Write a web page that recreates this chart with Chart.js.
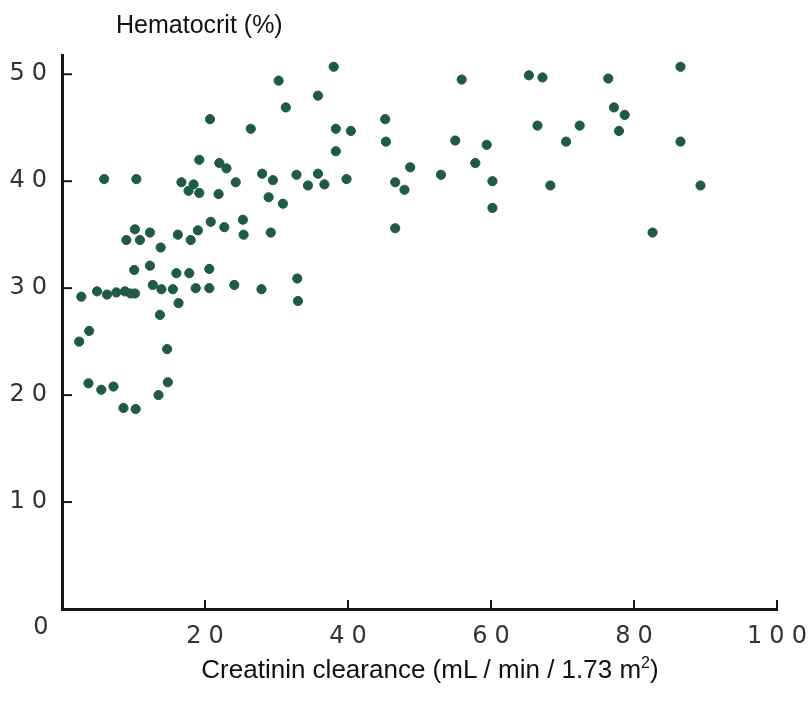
<!DOCTYPE html>
<html lang="en">
<head>
  <meta charset="UTF-8">
  <title>Hematocrit vs creatinin clearance</title>
  <script src="https://cdn.jsdelivr.net/npm/chart.js"></script>
  <style>
    body {
      margin: 0;
      background: #fff;
      font-family: 'Liberation Sans', Arial, sans-serif;
    }
    .wrap {
      position: relative;
      width: 808px;
      height: 713px;
    }
    .ylabel {
      position: absolute;
      left: 116px;
      top: 10px;
      font-size: 25px;
      color: #111;
    }
    .xlabel {
      position: absolute;
      left: 0;
      width: 860px;
      top: 654px;
      text-align: center;
      font-size: 26px;
      color: #111;
    }
    .xlabel sup { font-size: 16px; }
  </style>
</head>
<body>
  <div class="wrap">
    <canvas id="chart" width="808" height="713"></canvas>
    <div class="ylabel">Hematocrit (%)</div>
    <div class="xlabel">Creatinin clearance (mL / min / 1.73 m<sup>2</sup>)</div>
  </div>

  <script>
    // creatinin clearance (mL/min/1.73 m2) for each patient
    const clearance = [
      5.9, 10.4, 10.2, 9.0, 10.9, 12.3, 13.8, 16.2, 16.7, 18.0,
      19.0, 17.7, 18.4, 19.2, 19.2, 20.7, 20.8, 21.9, 22.0, 23.0,
      22.7, 24.3, 25.3, 25.4, 26.4, 28.0, 29.5, 28.9, 29.2, 30.9,
      30.3, 38.0, 35.8, 31.3, 45.2, 45.3, 38.3, 40.4, 38.3, 32.8,
      35.8, 34.4, 36.7, 39.8, 48.7, 46.6, 47.9, 46.6, 53.0, 55.0,
      55.9, 57.8, 59.4, 60.2, 60.2, 65.3, 67.2, 76.4, 86.5, 77.2,
      78.7, 77.9, 66.5, 72.4, 70.5, 86.5, 68.3, 89.3, 82.6,
      10.1, 12.3, 16.0, 17.8, 20.6, 2.7, 4.9, 6.3, 7.6, 8.8,
      10.2, 9.6, 12.7, 13.9, 15.5, 18.7, 20.6, 24.1, 27.9, 16.3,
      13.7, 2.4, 3.8, 14.7, 3.7, 5.5, 7.2, 8.6, 10.3, 13.5,
      14.8, 32.9, 33.0
    ];
    // hematocrit (%) for the same patients
    const hematocrit = [
      40.2, 40.2, 35.5, 34.5, 34.5, 35.2, 33.8, 35.0, 39.9, 34.5,
      35.4, 39.1, 39.7, 38.9, 42.0, 45.8, 36.2, 38.8, 41.7, 41.2,
      35.7, 39.9, 36.4, 35.0, 44.9, 40.7, 40.1, 38.5, 35.2, 37.9,
      49.4, 50.7, 48.0, 46.9, 45.8, 43.7, 44.9, 44.7, 42.8, 40.6,
      40.7, 39.6, 39.7, 40.2, 41.3, 39.9, 39.2, 35.6, 40.6, 43.8,
      49.5, 41.7, 43.4, 40.0, 37.5, 49.9, 49.7, 49.6, 50.7, 46.9,
      46.2, 44.7, 45.2, 45.2, 43.7, 43.7, 39.6, 39.6, 35.2,
      31.7, 32.1, 31.4, 31.4, 31.8, 29.2, 29.7, 29.4, 29.6, 29.7,
      29.5, 29.5, 30.3, 29.9, 29.9, 30.0, 30.0, 30.3, 29.9, 28.6,
      27.5, 25.0, 26.0, 24.3, 21.1, 20.5, 20.8, 18.8, 18.7, 20.0,
      21.2, 30.9, 28.8
    ];
    const xTicks = [0, 20, 40, 60, 80, 100];
    const yTicks = [10, 20, 30, 40, 50];

    const points = clearance.map((x, i) => ({ x: x, y: hematocrit[i] }));

    const tickFont = { family: "'DejaVu Sans', sans-serif", size: 24 };
    const axisColor = '#15151f';
    const spacing = 7;

    // spaced-out tick digits like the old stencil lettering
    const spacingPlugin = {
      id: 'spacing',
      beforeDraw(chart) { chart.ctx.letterSpacing = spacing + 'px'; },
      beforeDatasetsDraw(chart) { chart.ctx.letterSpacing = '0px'; }
    };

    // tick marks pointing into the plot, plus the shared origin "0"
    const innerTicks = {
      id: 'innerTicks',
      afterDraw(chart) {
        const ctx = chart.ctx;
        const xs = chart.scales.x, ys = chart.scales.y;
        const bottom = ys.getPixelForValue(0);
        const left = xs.getPixelForValue(0);
        ctx.save();
        ctx.strokeStyle = axisColor;
        ctx.lineWidth = 2;
        xTicks.slice(1).forEach(v => {
          const px = xs.getPixelForValue(v);
          ctx.beginPath();
          ctx.moveTo(px, bottom);
          ctx.lineTo(px, bottom - 9);
          ctx.stroke();
        });
        yTicks.forEach(v => {
          const py = ys.getPixelForValue(v);
          ctx.beginPath();
          ctx.moveTo(left, py);
          ctx.lineTo(left + 10, py);
          ctx.stroke();
        });
        ctx.fillStyle = '#333';
        ctx.font = "24px 'DejaVu Sans', sans-serif";
        ctx.textAlign = 'center';
        ctx.textBaseline = 'top';
        ctx.fillText('0', left - 21, bottom + 7);
        ctx.restore();
      }
    };

    new Chart(document.getElementById('chart'), {
      type: 'scatter',
      data: {
        datasets: [{
          data: points,
          backgroundColor: '#1f5a48',
          borderColor: '#1f5a48',
          pointRadius: 4.6,
          pointHoverRadius: 4.6
        }]
      },
      options: {
        responsive: false,
        animation: false,
        layout: { padding: { top: 55, right: 31, left: 0, bottom: 0 } },
        plugins: {
          legend: { display: false },
          tooltip: { enabled: false }
        },
        scales: {
          x: {
            type: 'linear',
            min: 0,
            max: 100,
            afterFit(scale) { scale.height = 104; },
            afterBuildTicks(scale) { scale.ticks = xTicks.map(v => ({ value: v })); },
            grid: { display: false },
            border: { display: true, color: axisColor, width: 3 },
            ticks: {
              color: '#333',
              font: tickFont,
              padding: 5,
              labelOffset: spacing / 2,
              maxRotation: 0,
              callback: v => (v === 0 ? '' : v)
            }
          },
          y: {
            type: 'linear',
            min: 0,
            max: 51.8,
            afterFit(scale) { scale.width = 62; },
            afterBuildTicks(scale) { scale.ticks = yTicks.map(v => ({ value: v })); },
            grid: { display: false },
            border: { display: true, color: axisColor, width: 3 },
            ticks: {
              color: '#333',
              font: tickFont,
              padding: 0
            }
          }
        }
      },
      plugins: [spacingPlugin, innerTicks]
    });
  </script>
</body>
</html>
